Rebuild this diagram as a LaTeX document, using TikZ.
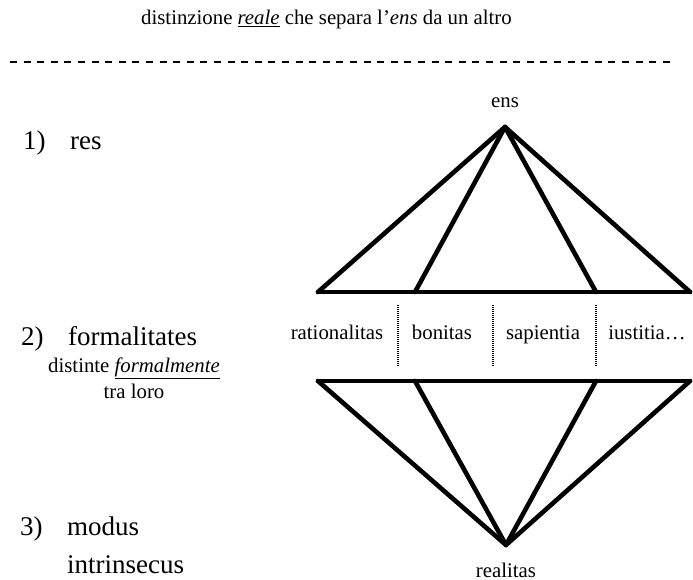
\documentclass[tikz,border=0pt]{standalone}
\usepackage{fontspec}
\setmainfont{Liberation Serif}
\begin{document}
\begin{tikzpicture}[x=1pt,y=-1pt,
  txt/.style={inner sep=0pt,font=\fontsize{20.8}{24}\selectfont},
  big/.style={inner sep=0pt,font=\fontsize{27}{32}\selectfont},
  fan/.style={line width=4.6pt,line join=round,line cap=round},
  sep/.style={line width=1.3pt,dash pattern=on 1pt off 1pt},
  rule/.style={line width=2pt,dash pattern=on 7pt off 6.6pt}]
\useasboundingbox (0,0) rectangle (693,580);

% heading and separator rule
\node[txt,anchor=base west] (head) at (141,25)
  {distinzione \underline{\textit{reale}} che separa l’\textit{ens} da un altro};
\coordinate (ruleL) at (10,62);
\coordinate (ruleR) at (674,62);
\draw[rule] (ruleL) -- (ruleR);

% left column: the three levels
\node[big,anchor=base west] (n1) at (23,150) {1)};
\node[big,anchor=base west] (res) at (70,150) {res};
\node[big,anchor=base west] (n2) at (21,345) {2)};
\node[big,anchor=base west] (form) at (68,345) {formalitates};
\node[txt,anchor=base] (dist) at (134,372) {distinte \underline{\textit{formalmente}}};
\node[txt,anchor=base] (tra) at (134,398) {tra loro};
\node[big,anchor=base west] (n3) at (20,535) {3)};
\node[big,anchor=base west] (modus) at (67,535) {modus};
\node[big,anchor=base west] (intr) at (67,573) {intrinsecus};

% upper fan from ens
\node[txt,anchor=base] (ens) at (505,108) {ens};
\coordinate (A) at (505,127);
\coordinate (u1) at (318,292);
\coordinate (u2) at (415,292);
\coordinate (u3) at (596,292);
\coordinate (u4) at (690,292);
\draw[fan] (u1) -- (u4);
\draw[fan] (A) -- (u1);
\draw[fan] (A) -- (u2);
\draw[fan] (A) -- (u3);
\draw[fan] (A) -- (u4);

% the formalities
\node[txt,anchor=base] (rat) at (337,339) {rationalitas};
\node[txt,anchor=base] (bon) at (442,339) {bonitas};
\node[txt,anchor=base] (sap) at (543,339) {sapientia};
\node[txt,anchor=base] (ius) at (647,339) {iustitia…};
\coordinate (s1t) at (398,305); \coordinate (s1b) at (398,367);
\coordinate (s2t) at (493,305); \coordinate (s2b) at (493,367);
\coordinate (s3t) at (596,305); \coordinate (s3b) at (596,367);
\draw[sep] (s1t) -- (s1b);
\draw[sep] (s2t) -- (s2b);
\draw[sep] (s3t) -- (s3b);

% lower fan to realitas
\coordinate (B) at (506,545);
\coordinate (d1) at (318,381);
\coordinate (d2) at (415,381);
\coordinate (d3) at (596,381);
\coordinate (d4) at (690,381);
\draw[fan] (d1) -- (d4);
\draw[fan] (B) -- (d1);
\draw[fan] (B) -- (d2);
\draw[fan] (B) -- (d3);
\draw[fan] (B) -- (d4);
\node[txt,anchor=base] (real) at (506,577) {realitas};
\end{tikzpicture}
\end{document}
